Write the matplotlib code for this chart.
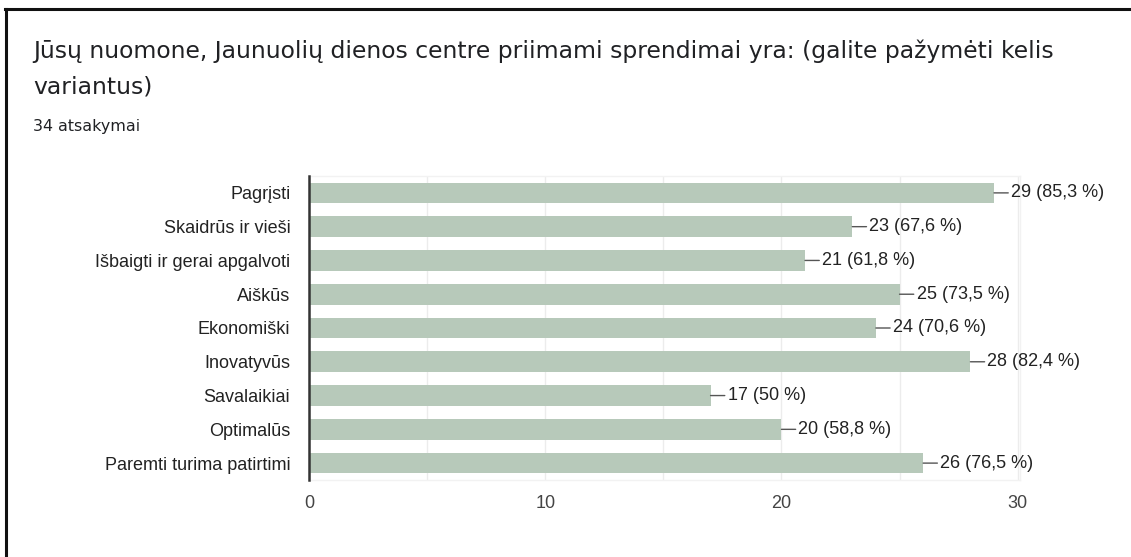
import matplotlib
matplotlib.use("Agg")
import matplotlib.pyplot as plt
from matplotlib.lines import Line2D

categories = ["Pagrįsti", "Skaidrūs ir vieši", "Išbaigti ir gerai apgalvoti", "Aiškūs",
              "Ekonomiški", "Inovatyvūs", "Savalaikiai", "Optimalūs", "Paremti turima patirtimi"]
counts = [29, 23, 21, 25, 24, 28, 17, 20, 26]
percents = ["85,3", "67,6", "61,8", "73,5", "70,6", "82,4", "50", "58,8", "76,5"]
xticks = [0, 10, 20, 30]
title_lines = ["Jūsų nuomone, Jaunuolių dienos centre priimami sprendimai yra: (galite pažymėti kelis",
               "variantus)"]
subtitle = "34 atsakymai"

W, H = 1131, 557
fig = plt.figure(figsize=(W / 100, H / 100), dpi=100)
fig.patch.set_facecolor("white")

# outer frame (top and left edges)
fig.add_artist(Line2D([5 / W, 1], [1 - 9 / H, 1 - 9 / H], color="#111111", lw=2.2))
fig.add_artist(Line2D([5.5 / W, 5.5 / W], [0, 1 - 9 / H], color="#111111", lw=2.2))

tfs = 16.9
fig.text(33 / W, 1 - 51 / H, title_lines[0],
         fontsize=tfs, family="DejaVu Sans", color="#202124", va="center", ha="left")
fig.text(33 / W, 1 - 87 / H, title_lines[1],
         fontsize=tfs, family="DejaVu Sans", color="#202124", va="center", ha="left")
fig.text(33 / W, 1 - 127 / H, subtitle, fontsize=11.4, family="DejaVu Sans", color="#202124",
         va="center", ha="left")

left, right, top, bottom = 309, 1020, 176, 480
ax = fig.add_axes([left / W, 1 - bottom / H, (right - left) / W, (bottom - top) / H])
ypos = list(range(len(categories)))
ax.barh(ypos, counts, height=0.61, color="#b7c9ba", zorder=3)
ax.set_ylim(len(categories) - 0.5, -0.5)
ax.set_xlim(0, 30.1)

for x in range(0, 31, 5):
    ax.axvline(x, color="#ececec", lw=1, zorder=1)

fs = 13.0
ax.set_yticks(ypos)
ax.set_yticklabels(categories, fontsize=fs, family="Liberation Sans", color="#222222")
ax.set_xticks(xticks)
ax.set_xticklabels([str(t) for t in xticks], fontsize=fs, family="Liberation Sans", color="#444444")
ax.tick_params(axis="y", length=0, pad=13.5)
ax.tick_params(axis="x", length=0, pad=11)

for s in ["top", "right", "bottom"]:
    ax.spines[s].set_color("#f2f2f2")
    ax.spines[s].set_linewidth(1)
ax.spines["left"].set_color("#333333")
ax.spines["left"].set_linewidth(1.8)
ax.spines["left"].set_zorder(5)

for i, (c, p) in enumerate(zip(counts, percents)):
    ax.annotate(f"{c} ({p} %)", xy=(c, i), xytext=(17, 0), textcoords="offset pixels",
                va="center", ha="left", fontsize=fs, family="Liberation Sans", color="#222222",
                arrowprops=dict(arrowstyle="-", color="#555555", lw=1, shrinkA=0, shrinkB=0),
                annotation_clip=False, zorder=6)

fig.savefig("out.png", dpi=100)
